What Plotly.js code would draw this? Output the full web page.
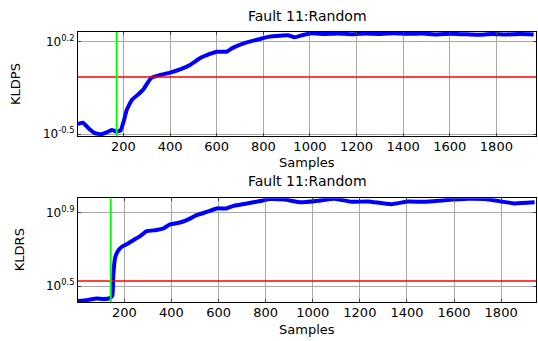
<!DOCTYPE html>
<html>
<head>
<meta charset="utf-8">
<script src="https://cdn.plot.ly/plotly-3.0.1.min.js"></script>
<style>html,body{margin:0;padding:0;background:#fff;}#chart{width:538px;height:341px;}</style>
</head>
<body>
<div id="chart"></div>
<script>
// ---- data ----
const chartTitle = "Fault 11:Random";
const xLabel = "Samples";
const topYLabel = "KLDPS";
const botYLabel = "KLDRS";

// top panel: KLDPS
const kldpsSamples = [5,26,50,78,107,128,150,171,188,203,214,236,264,286,307,321,357,400,443,486,528,571,600,643,671,729,786,826,870,906,934,970,1006,1060,1120,1180,1240,1300,1360,1420,1480,1540,1600,1660,1720,1780,1840,1900,1960];
const kldpsValues  = [0.377,0.387,0.351,0.322,0.316,0.327,0.341,0.331,0.339,0.407,0.483,0.575,0.634,0.692,0.791,0.847,0.887,0.925,0.979,1.057,1.186,1.279,1.330,1.330,1.429,1.567,1.660,1.730,1.758,1.770,1.710,1.778,1.832,1.811,1.828,1.803,1.828,1.811,1.837,1.816,1.828,1.799,1.820,1.803,1.786,1.811,1.795,1.811,1.799];
const kldpsThreshold = 0.857;
const kldpsFaultStart = 171;
const kldpsTickVals = [0.3162, 1.5849];
const kldpsTickText = ["10<sup>-0.5</sup>", "10<sup>0.2</sup>"];

// bottom panel: KLDRS
const kldrsSamples = [3,40,83,111,139,149,153,160,170,189,210,238,267,295,337,366,394,436,465,507,550,592,634,663,720,776,815,881,951,1022,1093,1163,1234,1333,1404,1475,1560,1659,1730,1800,1857,1942];
const kldrsValues  = [2.630,2.655,2.710,2.692,2.729,2.818,3.631,4.477,4.864,5.188,5.358,5.636,5.929,6.310,6.397,6.531,6.871,7.031,7.244,7.709,8.035,8.395,8.395,8.670,8.933,9.204,9.441,9.376,9.057,9.247,9.484,9.120,9.162,8.851,9.162,9.120,9.311,9.484,9.441,9.162,8.933,9.057];
const kldrsThreshold = 3.381;
const kldrsFaultStart = 142;
const kldrsTickVals = [3.1623, 7.9433];
const kldrsTickText = ["10<sup>0.5</sup>", "10<sup>0.9</sup>"];

const xTickVals = [200,400,600,800,1000,1200,1400,1600,1800];

// ---- layout ----
const topXRange = [5, 1970];
const botXRange = [3, 1948];
const topYRange = [-0.513, 0.273];
const botYRange = [0.414, 0.979];
const topDomain = [0.615, 1];
const botDomain = [0, 0.384];

const font = {family: "DejaVu Sans, sans-serif", size: 13, color: "#000"};
const tickFontY = {family: "DejaVu Sans, sans-serif", size: 12, color: "#000"};

function xaxisDef(range, anchor) {
  return {
    range: range, anchor: anchor, tickvals: xTickVals, ticks: "inside", ticklen: 3,
    ticklabelstandoff: -2,
    showline: true, mirror: "ticks", linecolor: "#000", linewidth: 1,
    showgrid: true, gridcolor: "#a8a8a8", gridwidth: 1, zeroline: false,
    tickfont: font
  };
}
function yaxisDef(range, domain, anchor, vals, text) {
  return {
    type: "log", range: range, domain: domain, anchor: anchor,
    tickvals: vals, ticktext: text, ticks: "inside", ticklen: 3,
    showline: true, mirror: "ticks", linecolor: "#000", linewidth: 1,
    showgrid: true, gridcolor: "#a8a8a8", gridwidth: 1, zeroline: false,
    tickfont: tickFontY
  };
}

const traces = [
  {x: kldpsSamples, y: kldpsValues, xaxis: "x", yaxis: "y", mode: "lines",
   line: {color: "#0000ff", width: 4, shape: "spline", smoothing: 0.4}},
  {x: topXRange, y: [kldpsThreshold, kldpsThreshold], xaxis: "x", yaxis: "y", mode: "lines",
   line: {color: "#ff0000", width: 1.5}},
  {x: [kldpsFaultStart, kldpsFaultStart], y: [Math.pow(10, topYRange[0]), Math.pow(10, topYRange[1])], xaxis: "x", yaxis: "y", mode: "lines",
   line: {color: "#00ff00", width: 2}},
  {x: kldrsSamples, y: kldrsValues, xaxis: "x2", yaxis: "y2", mode: "lines",
   line: {color: "#0000ff", width: 4, shape: "spline", smoothing: 0.4}},
  {x: botXRange, y: [kldrsThreshold, kldrsThreshold], xaxis: "x2", yaxis: "y2", mode: "lines",
   line: {color: "#ff0000", width: 1.5}},
  {x: [kldrsFaultStart, kldrsFaultStart], y: [Math.pow(10, botYRange[0]), Math.pow(10, botYRange[1])], xaxis: "x2", yaxis: "y2", mode: "lines",
   line: {color: "#00ff00", width: 2}}
];

const ann = (text, x, y, xshift, yshift, extra) => Object.assign({
  text: text, xref: "paper", yref: "paper", x: x, y: y, xshift: xshift, yshift: yshift,
  xanchor: "center", yanchor: "middle", showarrow: false, font: font
}, extra || {});

const titleFont = {family: font.family, size: 14, color: "#000"};

const layout = {
  width: 538, height: 341,
  margin: {l: 78, r: 2, t: 32, b: 39},
  paper_bgcolor: "#fff", plot_bgcolor: "#fff",
  showlegend: false, font: font,
  xaxis: xaxisDef(topXRange, "y"),
  yaxis: yaxisDef(topYRange, topDomain, "x", kldpsTickVals, kldpsTickText),
  xaxis2: xaxisDef(botXRange, "y2"),
  yaxis2: yaxisDef(botYRange, botDomain, "x2", kldrsTickVals, kldrsTickText),
  annotations: [
    ann(chartTitle, 0.5, topDomain[1], 0, 16, {font: titleFont}),
    ann(chartTitle, 0.5, botDomain[1], 0, 17, {font: titleFont}),
    ann(xLabel, 0.5, topDomain[0], 0, -27),
    ann(xLabel, 0.5, botDomain[0], 0, -27),
    ann(topYLabel, 0, (topDomain[0] + topDomain[1]) / 2, -62, 0, {textangle: -90}),
    ann(botYLabel, 0, (botDomain[0] + botDomain[1]) / 2, -59, 0, {textangle: -90})
  ]
};

Plotly.newPlot("chart", traces, layout, {displayModeBar: false, staticPlot: true});
</script>
</body>
</html>
